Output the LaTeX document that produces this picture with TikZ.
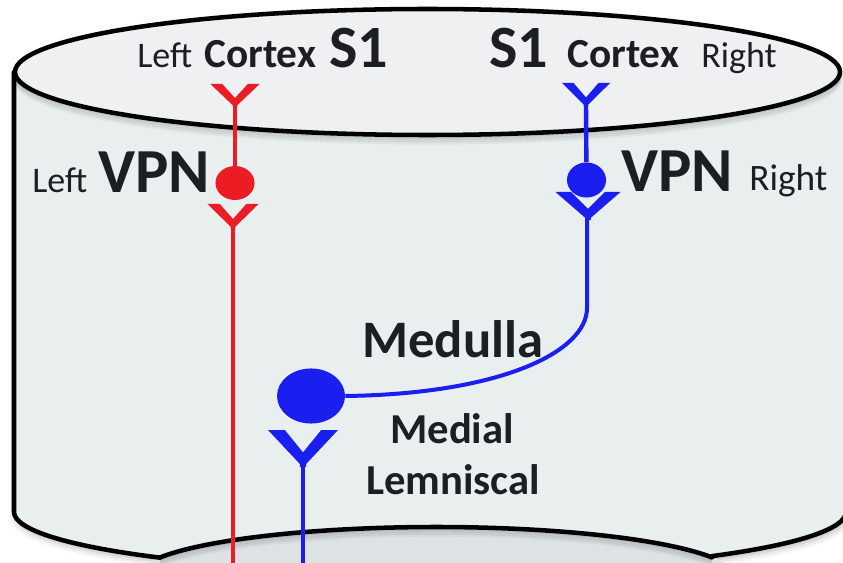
\documentclass[tikz,border=0pt]{standalone}
\usepackage{fontspec}
\setmainfont{Carlito}
\usetikzlibrary{shapes.geometric,shadows.blur}

\definecolor{ink}{HTML}{1B1F21}
\definecolor{nred}{HTML}{EC1C24}
\definecolor{nblue}{HTML}{1A1EF0}
\definecolor{bodygray}{HTML}{E9EEEF}
\definecolor{lidgray}{HTML}{EEF0F2}
\definecolor{floorgray}{HTML}{DDE2E5}

\begin{document}
\begin{tikzpicture}[x=0.75pt,y=-0.75pt,
  outline/.style={line width=3.4pt, draw=black, line cap=round},
  axon/.style={line width=3.3pt},
  soma/.style={ellipse, inner sep=0pt, draw=none},
  lbl/.style={anchor=base west, inner sep=0pt, text=ink},
  softshadow/.style={blur shadow={shadow xshift=1pt, shadow yshift=-3pt,
      shadow blur radius=5pt, shadow opacity=30}},
  % synaptic terminal: two slanted arms with flat tops meeting in a short stem
  terminal/.pic={\path[pic actions] (-1,0) -- (-0.52,0) -- (0,0.64) -- (0.52,0) -- (1,0)
      -- (0.09,0.97) -- (0.09,1.05) -- (-0.09,1.05) -- (-0.09,0.97) -- cycle;}
]
\useasboundingbox (0,0) rectangle (843,563);
\begin{scope}
\clip (0,0) rectangle (843,563);

% cylinder body and the lower segment showing through its base
\fill[bodygray, softshadow] (14,72) -- (14,512) arc[start angle=180, end angle=0, x radius=416, y radius=60]
  -- (846,72) -- cycle;
\fill[floorgray] (436,577) ellipse[x radius=300, y radius=50];
\fill[lidgray] (427.5,72) ellipse[x radius=412.5, y radius=63];

% soft shading under the rims
\foreach \d/\o in {2/0.10, 4/0.08, 6/0.06, 8/0.04} {
  \draw[black, opacity=\o, line width=2.5pt]
    (840,72+\d) arc[start angle=0, end angle=180, x radius=412.5, y radius=63];
  \draw[black, opacity=\o, line width=2.5pt]
    (160.1,557.4+\d) arc[start angle=203.1, end angle=336.9, x radius=300, y radius=50];
}

% outlines
\draw[outline] (427.5,72) ellipse[x radius=412.5, y radius=63];
\draw[outline] (14,72) -- (14,512) arc[start angle=180, end angle=130.5, x radius=416, y radius=60];
\draw[outline] (846,512) arc[start angle=0, end angle=47.3, x radius=416, y radius=60];
\draw[outline] (160.1,557.4) arc[start angle=203.1, end angle=336.9, x radius=300, y radius=50];

% left (red) pathway
\pic[fill=nred, xscale=24.5, yscale=22] at (235,84) {terminal};
\coordinate (lTop) at (235,104);
\node[soma, fill=nred, minimum width=29.3pt, minimum height=25.5pt] (lvpn) at (235,183) {};
\pic[fill=nred, xscale=25.5, yscale=23.5] at (233,204) {terminal};
\coordinate (lLow) at (233,226);
\coordinate (lEnd) at (233,570);
\draw[axon, nred] (lTop) -- (lvpn);
\draw[axon, nred] (lLow) -- (lEnd);

% right (blue) pathway
\pic[fill=nblue, xscale=24, yscale=22.5] at (586,83) {terminal};
\coordinate (rTop) at (586,104);
\node[soma, fill=nblue, minimum width=29.3pt, minimum height=26.3pt] (rvpn) at (586.5,180) {};
\pic[fill=nblue, xscale=32.5, yscale=26.5] at (588,192) {terminal};
\coordinate (rLow) at (587,216);
\coordinate (bend) at (587,308);
\node[soma, fill=nblue, minimum width=51pt, minimum height=41.3pt] (med) at (311,396) {};
\draw[axon, nblue] (rTop) -- (rvpn);
\draw[axon, nblue, line width=3pt] (rLow) -- (bend) .. controls (587,352) and (500,394) .. (med.east);

% medial lemniscus terminal
\pic[fill=nblue, xscale=35, yscale=35] at (303,430) {terminal};
\coordinate (mTop) at (303,464);
\coordinate (mEnd) at (303,570);
\draw[axon, nblue] (mTop) -- (mEnd);
\end{scope}

% labels
\node[lbl, font=\fontsize{27}{32}\selectfont] (tl1) at (137,68) {Left};
\node[lbl, font=\fontsize{31}{36}\selectfont\bfseries] (tl2) at (204,68) {Cortex};
\node[lbl, font=\fontsize{45}{50}\selectfont\bfseries] (tl3) at (329,68) {S1};

\node[lbl, font=\fontsize{45}{50}\selectfont\bfseries] (tr1) at (489,68) {S1};
\node[lbl, font=\fontsize{31}{36}\selectfont\bfseries] (tr2) at (567,68) {Cortex};
\node[lbl, font=\fontsize{27}{32}\selectfont] (tr3) at (701,68) {Right};

\node[lbl, font=\fontsize{27}{32}\selectfont] (vl1) at (32,193) {Left};
\node[lbl, font=\fontsize{47}{52}\selectfont\bfseries] (vl2) at (98,193) {VPN};
\node[lbl, font=\fontsize{47}{52}\selectfont\bfseries] (vr1) at (621,192) {VPN};
\node[lbl, font=\fontsize{28}{33}\selectfont] (vr2) at (749,191) {Right};

\node[lbl, font=\fontsize{39.5}{44}\selectfont\bfseries] (medt) at (362,357) {Medulla};
\node[lbl, font=\fontsize{32}{36}\selectfont\bfseries] (ml1) at (390,443) {Medial};
\node[lbl, font=\fontsize{32}{36}\selectfont\bfseries] (ml2) at (366,494) {Lemniscal};
\end{tikzpicture}
\end{document}
